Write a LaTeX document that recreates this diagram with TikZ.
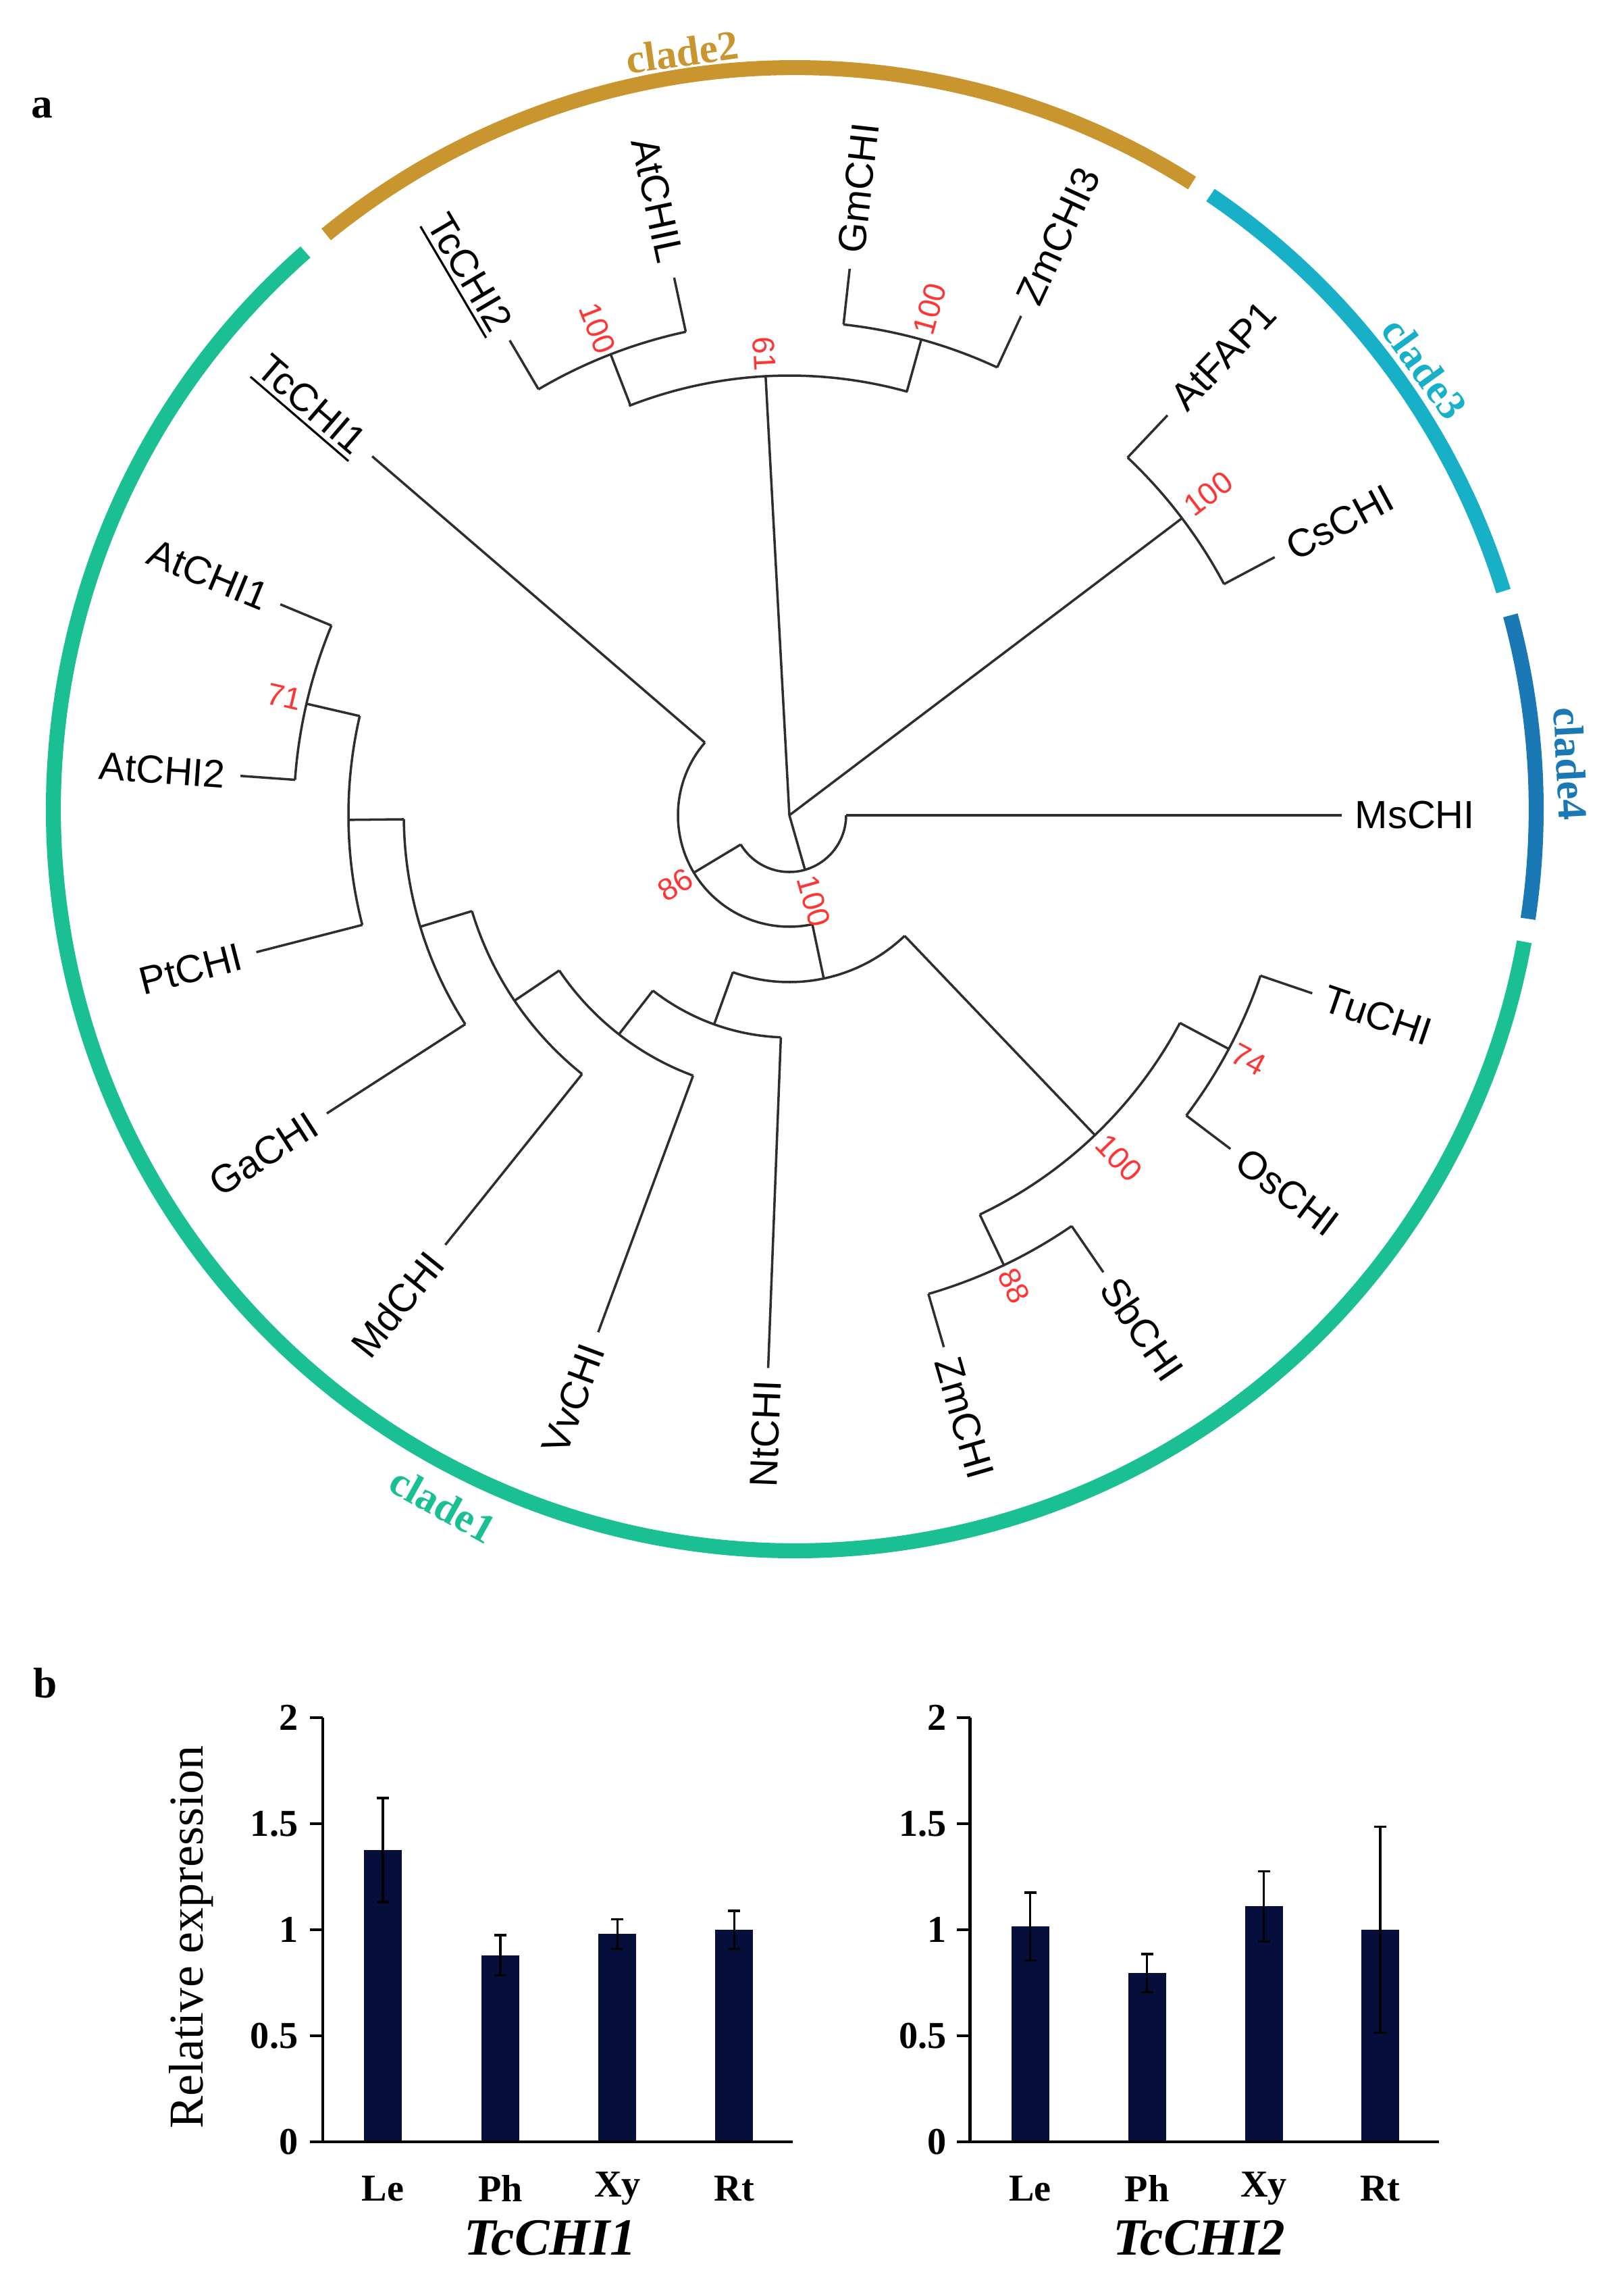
\documentclass[tikz,border=0pt]{standalone}
\usepackage{fontspec}
\setmainfont{Liberation Serif}
\setsansfont{Liberation Sans}
\definecolor{cone}{HTML}{1ABF93}
\definecolor{ctwo}{HTML}{C9952F}
\definecolor{cthree}{HTML}{17B0C7}
\definecolor{cfour}{HTML}{1A78B4}
\definecolor{bootred}{HTML}{FF3535}
\definecolor{barc}{HTML}{060F3C}
\newcommand\radial[3]{\draw[br] (#1:#2) -- (#1:#3);}
\newcommand\hook[3]{\draw[br] (#2:#1) arc[start angle=#2,end angle=#3,radius=#1];}
\begin{document}
\begin{tikzpicture}[
  br/.style={draw=black!82, line width=1.0pt},
  leaf/.style={font=\sffamily\fontsize{16.5}{18}\selectfont, inner sep=0pt},
  bootlbl/.style={font=\sffamily\fontsize{13}{14}\selectfont, text=bootred, inner sep=0pt},
  ringarc/.style={line width=6.3pt},
  cladelbl/.style={font=\bfseries\fontsize{17.5}{19}\selectfont, inner sep=0pt},
  ax/.style={line width=1.3pt},
  eb/.style={line width=1.0pt},
  ticklbl/.style={font=\bfseries\fontsize{16}{18}\selectfont, inner sep=0pt, anchor=east},
  xlbl/.style={font=\bfseries\fontsize{16}{18}\selectfont, inner sep=0pt},
  gene/.style={font=\bfseries\itshape\fontsize{22}{24}\selectfont, inner sep=0pt}
]
\useasboundingbox (-11.69,-21.73) rectangle (12.35,12.07);
\coordinate (root) at (0,0);

% ---------------- clade ring ----------------
\begin{scope}[shift={(0.08,0.09)}]
\draw[ringarc,cone] (131.3:10.98) arc[start angle=131.3,end angle=349.7,radius=10.98];
\draw[ringarc,ctwo] (57.6:10.98) arc[start angle=57.6,end angle=129.2,radius=10.98];
\draw[ringarc,cthree] (17.1:10.98) arc[start angle=17.1,end angle=55.9,radius=10.98];
\draw[ringarc,cfour] (-8.5:10.98) arc[start angle=-8.5,end angle=15.15,radius=10.98];
\end{scope}
\node[cladelbl,text=ctwo,rotate=8] (lc2) at (-1.59,11.30) {clade2};
\node[cladelbl,text=cthree,rotate=-54] (lc3) at (9.41,6.62) {clade3};
\node[cladelbl,text=cfour,rotate=-87] (lc4) at (11.57,0.76) {clade4};
\node[cladelbl,text=cone,rotate=-29] (lc1) at (-5.13,-10.21) {clade1};

% ---------------- tree ----------------
% clade2
\draw[br] (root) -- (93.1:6.51) coordinate (n61);
\hook{6.51}{74.4}{111.4}
\radial{111.2}{6.51}{7.32}
\hook{7.32}{102.1}{120.5}
\radial{120.5}{7.32}{8.16}
\radial{102.1}{7.32}{8.14}
\radial{74.5}{6.51}{7.31}
\hook{7.31}{65.1}{83.7}
\radial{83.7}{7.31}{8.14}
\radial{65.1}{7.31}{8.15}
% clade3
\draw[br] (root) -- (37.1:7.29) coordinate (n3);
\hook{7.29}{28}{46.6}
\radial{46.6}{7.29}{8.15}
\radial{28}{7.29}{8.14}
% rest
\draw[br] (root) -- (-74:0.84) coordinate (nb);
\hook{0.84}{-149}{0}
\radial{0}{0.84}{8.18}
\radial{-149}{0.84}{1.65}
\hook{1.65}{139.3}{281.9}
\radial{139.3}{1.65}{8.15}
\radial{-78.1}{1.65}{2.47}
\hook{2.47}{-109.8}{-46.3}
% monocots
\radial{-46.3}{2.47}{6.55}
\hook{6.55}{-64.5}{-28}
\radial{-28}{6.55}{7.37}
\hook{7.37}{-37.1}{-18.8}
\radial{-18.8}{7.37}{8.18}
\radial{-37.1}{7.37}{8.19}
\radial{-64.5}{6.55}{7.38}
\hook{7.38}{-73.8}{-55.5}
\radial{-55.5}{7.38}{8.21}
\radial{-73.8}{7.38}{8.20}
% dicots
\radial{-109.8}{2.47}{3.29}
\hook{3.29}{-127.9}{-92.2}
\radial{-92.2}{3.29}{8.19}
\radial{-127.9}{3.29}{4.11}
\hook{4.11}{-146}{-110.3}
\radial{-110.3}{4.11}{8.16}
\radial{-146}{4.11}{4.91}
\hook{4.91}{-163.2}{-128.7}
\radial{-128.7}{4.91}{8.15}
\radial{-163.2}{4.91}{5.71}
\hook{5.71}{-179.4}{-147.2}
\radial{-147.2}{5.71}{8.15}
\radial{180.6}{5.71}{6.53}
\hook{6.53}{167}{194.4}
\radial{194.4}{6.53}{8.15}
\radial{167}{6.53}{7.34}
\hook{7.34}{157.5}{175.9}
\radial{157.5}{7.34}{8.16}
\radial{175.9}{7.34}{8.15}

% ---------------- leaf labels ----------------
\foreach \a/\t/\n in {0/MsCHI/ms, -18.8/TuCHI/tu, -37.1/OsCHI/os, -55.5/SbCHI/sb, -73.8/ZmCHI/zm,
  83.7/GmCHI/gm, 65.1/ZmCHI3/zm3, 46.6/AtFAP1/fap, 28/CsCHI/cs}
  \node[leaf,anchor=west,rotate=\a] (\n) at (\a:8.37) {\t};
\foreach \a/\t/\n in {-92.2/NtCHI/nt, -110.3/VvCHI/vv, -128.7/MdCHI/md, -147.2/GaCHI/ga,
  -165.6/PtCHI/pt, 175.9/AtCHI2/at2, 157.5/AtCHI1/at1, 102.1/AtCHIL/atl}
  \node[leaf,anchor=east,rotate=\a-180] (\n) at (\a:8.37) {\t};
\node[leaf,anchor=east,rotate=-40.7,inner ysep=0.07cm] (tc1) at (139.3:8.37) {TcCHI1};
\draw[line width=0.9pt] (tc1.south west) -- (tc1.south east);
\node[leaf,anchor=east,rotate=-59.5,inner ysep=0.07cm] (tc2) at (120.5:8.37) {TcCHI2};
\draw[line width=0.9pt] (tc2.south west) -- (tc2.south east);

% ---------------- bootstrap ----------------
\node[bootlbl,rotate=-68.5] (b1) at (111.5:7.75) {100};
\node[bootlbl,rotate=-87] (b2) at (93.1:6.84) {61};
\node[bootlbl,rotate=74.5] (b3) at (74.5:7.78) {100};
\node[bootlbl,rotate=37.5] (b4) at (37.5:7.82) {100};
\node[bootlbl,rotate=-13.2] (b5) at (166.8:7.68) {71};
\node[bootlbl,rotate=31.4] (b6) at (-148.6:1.975) {86};
\node[bootlbl,rotate=-74.2] (b7) at (-74.2:1.32) {100};
\node[bootlbl,rotate=-46.1] (b8) at (-46.1:7.04) {100};
\node[bootlbl,rotate=-28] (b9) at (-28:7.70) {74};
\node[bootlbl,rotate=-64.5] (b10) at (-64.5:7.72) {88};

% ---------------- panel labels ----------------
\node[font=\bfseries\fontsize{18}{20}\selectfont,inner sep=0pt] (pa) at (-11.07,10.47) {a};
\node[font=\bfseries\fontsize{18}{20}\selectfont,inner sep=0pt] (pb) at (-11.02,-12.85) {b};

% ---------------- bar charts ----------------
\def\yz{-19.64}
\def\ys{3.14}
% chart 1
\foreach \x/\v/\e in {-6.02/1.376/0.245, -4.28/0.88/0.095, -2.545/0.98/0.07, -0.815/1.0/0.09}{
  \fill[barc] ({\x-0.28},\yz) rectangle ({\x+0.28},{\yz+\v*\ys});
  \draw[eb] (\x,{\yz+(\v-\e)*\ys}) -- (\x,{\yz+(\v+\e)*\ys});
  \draw[eb] ({\x-0.09},{\yz+(\v+\e)*\ys}) -- ({\x+0.09},{\yz+(\v+\e)*\ys});
  \draw[eb] ({\x-0.09},{\yz+(\v-\e)*\ys}) -- ({\x+0.09},{\yz+(\v-\e)*\ys});
}
\draw[ax] (-6.91,{\yz+2*\ys}) -- (-6.91,\yz);
\draw[ax] (-7.10,\yz) -- (0.05,\yz);
\foreach \v/\t [count=\i] in {0/0,0.5/0.5,1/1,1.5/1.5,2/2}{
  \draw[ax] (-7.10,{\yz+\v*\ys}) -- (-6.91,{\yz+\v*\ys});
  \node[ticklbl] (ta\i) at (-7.27,{\yz+\v*\ys}) {\t};
}
\foreach \x/\t [count=\i] in {-6.02/Le, -4.28/Ph, -2.545/Xy, -0.815/Rt}
  \node[xlbl] (xa\i) at (\x,-20.33) {\t};
\node[gene] (g1) at (-3.54,-21.06) {TcCHI1};
\node[font=\fontsize{20.5}{22}\selectfont,rotate=90,inner sep=0pt] (ylab) at (-8.86,-16.61) {Relative expression};
% chart 2
\foreach \x/\v/\e in {3.565/1.015/0.16, 5.295/0.795/0.09, 7.025/1.11/0.165, 8.75/1.0/0.485}{
  \fill[barc] ({\x-0.28},\yz) rectangle ({\x+0.28},{\yz+\v*\ys});
  \draw[eb] (\x,{\yz+(\v-\e)*\ys}) -- (\x,{\yz+(\v+\e)*\ys});
  \draw[eb] ({\x-0.09},{\yz+(\v+\e)*\ys}) -- ({\x+0.09},{\yz+(\v+\e)*\ys});
  \draw[eb] ({\x-0.09},{\yz+(\v-\e)*\ys}) -- ({\x+0.09},{\yz+(\v-\e)*\ys});
}
\draw[ax] (2.675,{\yz+2*\ys}) -- (2.675,\yz);
\draw[ax] (2.48,\yz) -- (9.62,\yz);
\foreach \v/\t [count=\i] in {0/0,0.5/0.5,1/1,1.5/1.5,2/2}{
  \draw[ax] (2.48,{\yz+\v*\ys}) -- (2.675,{\yz+\v*\ys});
  \node[ticklbl] (tb\i) at (2.33,{\yz+\v*\ys}) {\t};
}
\foreach \x/\t [count=\i] in {3.565/Le, 5.295/Ph, 7.025/Xy, 8.75/Rt}
  \node[xlbl] (xb\i) at (\x,-20.33) {\t};
\node[gene] (g2) at (6.07,-21.06) {TcCHI2};
\end{tikzpicture}
\end{document}
